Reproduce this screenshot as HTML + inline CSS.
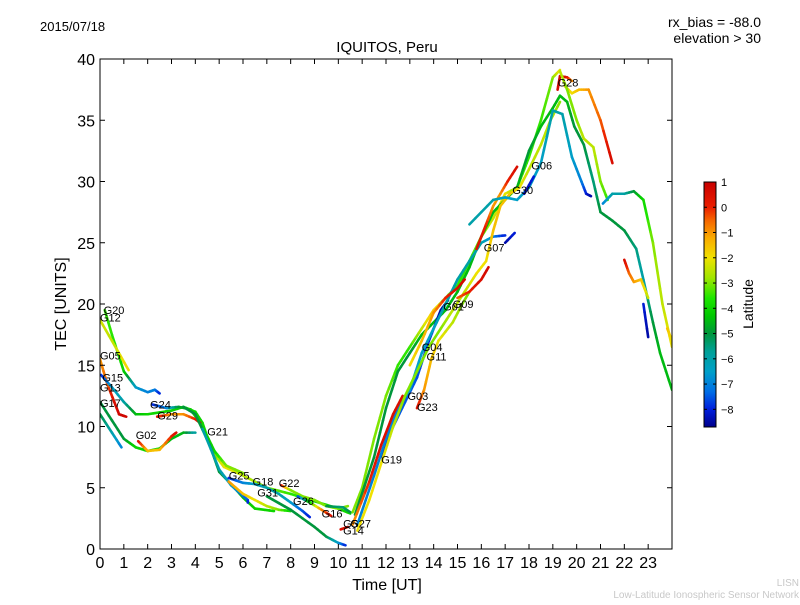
<!DOCTYPE html>
<html><head><meta charset="utf-8"><style>
body{margin:0;background:#fff;width:800px;height:600px;overflow:hidden;font-family:"Liberation Sans","DejaVu Sans",sans-serif}
</style></head><body>
<svg id="chart" width="800" height="600" xmlns="http://www.w3.org/2000/svg" font-family="Liberation Sans, DejaVu Sans, sans-serif">
<rect width="800" height="600" fill="#fff"/>
<text x="40" y="31" font-size="13">2015/07/18</text>
<text x="387" y="52" font-size="15" text-anchor="middle">IQUITOS, Peru</text>
<text x="761" y="27" font-size="14" text-anchor="end">rx_bias = -88.0</text>
<text x="761" y="43" font-size="14" text-anchor="end">elevation &gt; 30</text>
<text transform="translate(66,304) rotate(-90)" font-size="16" text-anchor="middle">TEC [UNITS]</text>
<text x="387" y="590" font-size="16" text-anchor="middle">Time [UT]</text>
<text transform="translate(753,304) rotate(-90)" font-size="14" text-anchor="middle">Latitude</text>
<text x="799" y="586" font-size="10" fill="#c8c8c8" text-anchor="end">LISN</text>
<text x="799" y="598" font-size="10" fill="#c8c8c8" text-anchor="end">Low-Latitude Ionospheric Sensor Network</text>
<g id="plot"></g>
</svg>
<script>
const xTicks=[0,1,2,3,4,5,6,7,8,9,10,11,12,13,14,15,16,17,18,19,20,21,22,23];
const yTicks=[0,5,10,15,20,25,30,35,40];
const cbTicks=[1,0,-1,-2,-3,-4,-5,-6,-7,-8];
const cbRange=[-8.7,1.0];
// tracks: [time UT, TEC, latitude]
const tracks=[
[[0.2,19.5,-3.5],[0.5,17.5,-3.5],[1,14.5,-4],[1.5,13.2,-6.5],[2,12.8,-7],[2.3,13,-7],[2.5,12.7,-8]],
[[0,18.7,-2.3],[0.5,17,-2.5],[1.2,14.6,-1.8]],
[[0,15.5,-1],[0.3,13.5,-0.5],[0.6,12,0.5],[0.8,11,0.8],[1.1,10.8,0.8]],
[[0.05,14.2,-8],[0.5,13.2,-6.5],[1,12,-6],[1.5,11,-4.5],[2,11,-4],[3,11.3,-4],[3.5,11.6,-4],[4,11.2,-4],[4.3,10.3,-4],[4.7,8,-3.5],[5.2,6.7,-2],[6,6,-2.5],[7,5,-3],[8,4.5,-3.5],[9,3.9,-4],[10,3.3,-4],[10.5,2.9,-4]],
[[0,12,-5],[0.5,10.5,-5],[1,9,-5],[1.5,8.3,-4],[2,8,-4],[2.5,8.2,-4],[3,9,-4.5],[3.5,9.5,-4.5],[4,9.5,-6]],
[[0,11,-5],[0.5,9.5,-6],[0.9,8.3,-7]],
[[1.6,8.8,0.5],[2,8,-1.5],[2.5,8.1,-1.5],[3,9.2,0],[3.2,9.5,0.5]],
[[2.2,11.8,-8],[2.8,11.5,-7],[3.3,11.6,-5],[3.8,11.4,-4],[4.3,10,-4],[4.8,8,-4],[5.3,6.8,-3],[6,6.2,-3]],
[[2.4,10.8,0.5],[3,11,-1],[3.5,11,-1],[4,10.6,0],[4.2,10.3,0.7]],
[[3.5,11.6,-5],[4,11,-5],[4.6,8.5,-5],[5,6.3,-5],[5.5,5.3,-5],[6,4.2,-4.5],[6.5,3.3,-4],[7.3,3.1,-4]],
[[4.3,9.8,-6],[5,6.5,-6],[5.5,5.2,-6.5],[6.2,4,-7.5],[6.2,3.8,-8]],
[[5.4,5.8,-8],[6,5.4,-7],[6.5,5.3,-6.5],[7,5,-6],[7.5,4.5,-6],[8,3.8,-6.5],[8.5,3.1,-7.5],[8.8,2.6,-8]],
[[5.4,5.5,-1],[6,4.5,-1.5],[6.5,4,-2],[7,3.5,-2.5],[7.5,3.2,-3],[8,3.1,-4]],
[[7,4.3,-5],[8,3.2,-5],[9,1.8,-5],[9.5,1,-5],[10,0.5,-6.5],[10.3,0.3,-8]],
[[7.6,5.2,0.5],[8,4.8,-3],[8.5,4.3,-3],[9,4,-3],[9.5,3.5,-3],[10,3.3,-3],[10.4,3.5,-3]],
[[8.3,4.3,-8],[8.8,3.8,-4],[9.3,3.2,-1],[9.7,2.7,0.5]],
[[9.5,3.5,-5],[10.2,3.4,-5.5],[10.5,3.0,-5]],
[[10.1,1.6,0.5],[10.4,1.8,0.5]],
[[10.6,3,-3],[11,5,-3],[11.5,9,-3],[12,12.5,-3],[12.5,15,-3.5],[13,16.5,-3.5],[13.5,18,-2.5],[14,19.5,-1.5],[14.5,20.5,-3],[15,21.5,-3.5],[15.5,23.5,-3.5],[16,25.5,-3],[16.5,27,-2.5],[17,29,-2],[17.5,29.5,-3],[17.8,31,-3.5],[18,32,-3.5],[18.5,35,-3.5],[19,38.5,-3],[19.3,39.1,-2]],
[[10.7,2.8,-5],[11.5,7.5,-5],[12,11.5,-5],[12.5,14.5,-5],[13,16,-5],[13.5,17.5,-4.5],[14,18.5,-4.5],[14.5,19.5,-4.5],[15,21,-4.5],[15.5,23,-4.5],[16,25.5,-4.5],[16.5,27.5,-4.5],[17,28.5,-4.5],[17.5,29.5,-4.5],[18,32.5,-5],[18.5,34.5,-4.5],[19,36,-4.5],[19.3,37,-4.5],[19.6,36.5,-4.5],[19.9,34.5,-5],[20.3,33,-5],[20.7,30,-5.5],[21,27.5,-5],[21.5,26.8,-5],[22,26,-5],[22.5,24.5,-5.5],[22.8,22,-6],[23.2,18.5,-5],[23.5,16,-4.5],[24,13,-4.5]],
[[11.8,7.5,-8.5],[12.3,10,-7.5],[12.8,12,-7.5],[13.3,14,-7.5],[13.8,17,-8],[14.3,19.5,-8.5],[14.6,20.3,-8.5]],
[[10.8,2,-7],[11.5,6,-7],[12,9,-7],[12.5,11.5,-7],[13,13,-6.5],[13.5,16,-6.5],[14,18,-6.5],[14.5,20,-6],[15,22,-6],[15.5,23.5,-6],[16,25,-6],[16.5,25.5,-7],[17,25.6,-8]],
[[10.6,2,-1],[11.3,5.5,0],[11.8,8.5,0.5],[12.3,11,0.5],[12.7,12.5,0.5]],
[[13.3,11.5,0.5],[13.6,13,-1],[13.9,15.5,-1.5],[14.2,17,-2],[14.8,18.5,-2.5],[15.2,20,-3],[15.5,21,-3]],
[[10.8,1.5,-2],[11.3,4,-2],[11.8,7,-2],[12.3,10,-2.5],[12.8,12.5,-3],[13.3,14.5,-3],[13.8,16.5,-3],[14.3,18,-3],[14.8,19.5,-2.5],[15.3,21,-2.5],[15.8,22.5,-2],[16.2,23.5,-2],[16.5,26,-1.5],[16.8,28,-1.5],[17.2,29,-1.5],[17.6,29.5,-2],[18,31,-2.5],[18.5,33,-2.5],[18.9,35,-2.5],[19.3,36.5,-3]],
[[15,20.5,-0.5],[15.5,21,0],[16,22,0.5],[16.3,23,0.7]],
[[13,15,-2],[13.5,17,-1.5],[14,19.3,-1],[14.5,20.5,0],[15,21.3,0.5],[15.3,22,0.7]],
[[15.8,24.5,0.5],[16.2,26.5,0],[16.5,28,-1],[16.8,29,-1],[17.1,30,0],[17.5,31.2,0.6]],
[[15.5,26.5,-6],[16.5,28.5,-6],[17,28.7,-6.5],[17.5,28.5,-6.5],[18,29.5,-6.5],[18.5,31.5,-6.5],[19,35.8,-6],[19.4,35.5,-6],[19.8,32,-6.5],[20.2,30,-7],[20.4,29,-8],[20.6,28.8,-8.5]],
[[17,25,-8.5],[17.4,25.8,-8]],
[[17.8,29,-8.5],[18.2,30.4,-8]],
[[19.2,37.5,0.7],[19.3,38.6,0.7],[19.6,38.5,0.5],[19.8,38.2,-1]],
[[19.5,37.8,-1.5],[19.8,37.2,-2],[20.1,37.5,-1.5],[20.5,37.5,-1],[21,35,-0.5],[21.5,31.5,0.7]],
[[19.3,39,-2.5],[19.6,37.5,-3],[20,35,-3],[20.3,33.5,-2.5],[20.7,32.8,-2.5],[21,30,-3],[21.3,28.5,-3.5]],
[[21.1,28.2,-7],[21.5,29,-6],[22,29,-6],[22.4,29.2,-5],[22.8,28.5,-4],[23.2,25,-3],[23.6,20,-2.5],[24,16.5,-2]],
[[22,23.6,0.7],[22.2,22.5,-0.5],[22.4,21.8,-1],[22.7,22,-1.5],[23,20.5,-2.5]],
[[22.8,20,-8],[23,17.3,-8.5]],
[[23.8,18,-1.5],[24,17,-2]]
];
const labels=[["G20",0.15,19.5],["G12",0,18.9],["G05",0,15.8],["G15",0.1,14],["G13",0,13.2],["G17",0,11.9],["G24",2.1,11.8],["G29",2.4,10.9],["G02",1.5,9.3],["G21",4.5,9.6],["G25",5.4,6.0],["G18",6.4,5.5],["G22",7.5,5.4],["G31",6.6,4.6],["G26",8.1,3.9],["G16",9.3,2.9],["G5",10.2,2.1],["G27",10.5,2.1],["G14",10.2,1.5],["G19",11.8,7.3],["G03",12.9,12.5],["G23",13.3,11.6],["G04",13.5,16.5],["G11",13.7,15.7],["G01",14.4,19.8],["G09",14.8,20.0],["G07",16.1,24.6],["G30",17.3,29.3],["G06",18.1,31.3],["G28",19.2,38.1]];

const X0=100,X1=672,Y0=549,Y1=59;
const xs=t=>X0+(X1-X0)*t/24;
const ys=v=>Y0-(Y0-Y1)*v/40;
const CB={x:704,w:12,top:182,bot:427};
const cbY=l=>CB.bot-(CB.bot-CB.top)*(l-cbRange[0])/(cbRange[1]-cbRange[0]);
// colour stops of the latitude colormap
const stops=[[-8.7,[0,0,140]],[-8,[0,30,220]],[-7.3,[0,110,230]],[-6.5,[0,160,200]],[-5.7,[0,160,150]],[-5,[0,150,60]],[-4.3,[0,200,0]],[-3.6,[30,230,0]],[-2.8,[160,230,0]],[-2,[240,225,0]],[-1.2,[250,170,0]],[-0.5,[245,100,0]],[0,[235,30,0]],[1,[200,0,0]]];
function col(l){
  if(l<=stops[0][0])return `rgb(${stops[0][1]})`;
  for(let i=0;i<stops.length-1;i++){
    const a=stops[i],b=stops[i+1];
    if(l<=b[0]){const u=(l-a[0])/(b[0]-a[0]);
      return 'rgb('+a[1].map((c,k)=>Math.round(c+(b[1][k]-c)*u)).join(',')+')';}
  }
  return `rgb(${stops[stops.length-1][1]})`;
}
const NS="http://www.w3.org/2000/svg";
const g=document.getElementById('plot');
function mk(tag,attrs,parent){const e=document.createElementNS(NS,tag);for(const k in attrs)e.setAttribute(k,attrs[k]);(parent||g).appendChild(e);return e;}

const clip=mk('clipPath',{id:'pc'});mk('rect',{x:X0,y:Y1,width:X1-X0,height:Y0-Y1},clip);
const lines=mk('g',{'clip-path':'url(#pc)'});


tracks.forEach((tr,i)=>{
  const tg=mk('g',{},lines);
  
  
  for(let j=0;j<tr.length-1;j++){
    const a=tr[j],b=tr[j+1];
    const n=4;
    for(let k=0;k<n;k++){
      const u0=k/n,u1=(k+1)/n,um=(u0+u1)/2;
      const s=mk('line',{x1:xs(a[0]+(b[0]-a[0])*u0),y1:ys(a[1]+(b[1]-a[1])*u0),x2:xs(a[0]+(b[0]-a[0])*u1),y2:ys(a[1]+(b[1]-a[1])*u1),stroke:col(a[2]+(b[2]-a[2])*um),'stroke-width':2.6,'stroke-linecap':'round'},tg);
      
      
    }
  }
});
labels.forEach(L=>{
  const t=mk('text',{x:xs(L[1]),y:ys(L[2])+4,'font-size':11},g);
  
  
  t.textContent=L[0];
});
const frame=mk('rect',{x:X0,y:Y1,width:X1-X0,height:Y0-Y1,fill:'none',stroke:'#000','stroke-width':1});


xTicks.forEach(t=>{
  mk('line',{x1:xs(t),x2:xs(t),y1:Y0,y2:Y0-5,stroke:'#000'});
  mk('line',{x1:xs(t),x2:xs(t),y1:Y1,y2:Y1+5,stroke:'#000'});
  const tx=mk('text',{x:xs(t),y:Y0+19,'font-size':16,'text-anchor':'middle'});
  
  
  tx.textContent=t;
});
yTicks.forEach(v=>{
  mk('line',{x1:X0,x2:X0+5,y1:ys(v),y2:ys(v),stroke:'#000'});
  mk('line',{x1:X1,x2:X1-5,y1:ys(v),y2:ys(v),stroke:'#000'});
  const tx=mk('text',{x:X0-5,y:ys(v)+6,'font-size':16,'text-anchor':'end'});
  
  
  tx.textContent=v;
});
const cb=mk('g',{});


for(let y=CB.top;y<CB.bot;y++){
  const l=cbRange[1]-(cbRange[1]-cbRange[0])*(y-CB.top+0.5)/(CB.bot-CB.top);
  mk('rect',{x:CB.x,y:y,width:CB.w,height:1.2,fill:col(l)},cb);
}
mk('rect',{x:CB.x,y:CB.top,width:CB.w,height:CB.bot-CB.top,fill:'none',stroke:'#000'},cb);
cbTicks.forEach(v=>{
  const y=cbY(v);
  mk('line',{x1:CB.x,x2:CB.x+3,y1:y,y2:y,stroke:'#000'},cb);
  mk('line',{x1:CB.x+CB.w,x2:CB.x+CB.w-3,y1:y,y2:y,stroke:'#000'},cb);
  const tx=mk('text',{x:CB.x+CB.w+5,y:y+4,'font-size':11},cb);
  
  
  tx.textContent=v<0?'\u2212'+(-v):v;
});
</script>
</body></html>
